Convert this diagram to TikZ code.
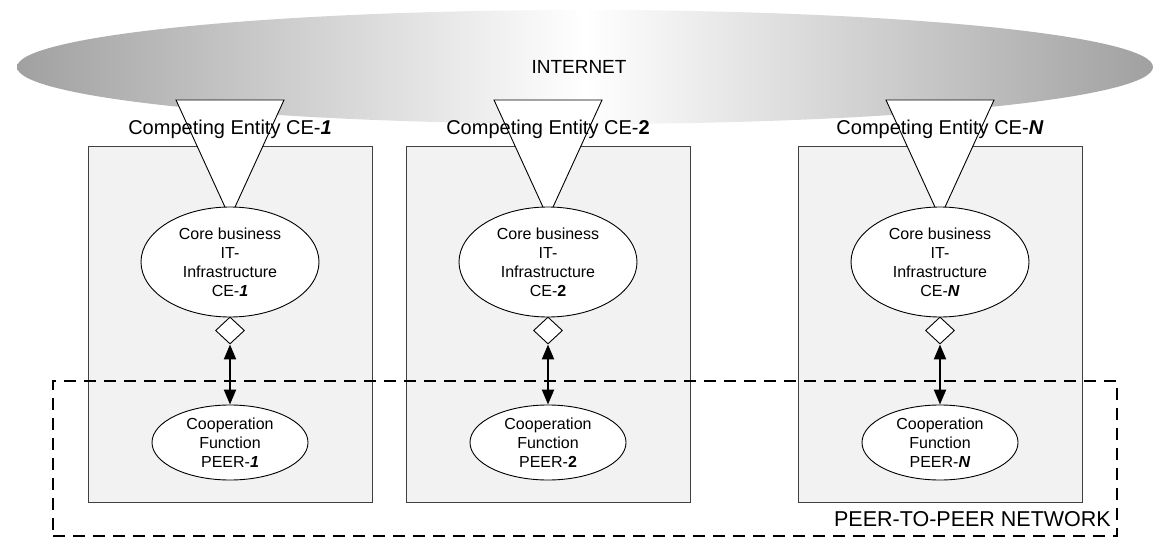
\documentclass[tikz,border=0pt]{standalone}
\usepackage{fontspec}
\setmainfont{Liberation Sans}
\usetikzlibrary{shapes.geometric,arrows.meta}

\tikzset{
  cloud/.style={ellipse, draw=none, left color=black!37, right color=black!37,
    middle color=white, minimum width=1136pt, minimum height=114pt,
    inner sep=0pt, font=\fontsize{19}{23}\selectfont},
  entitybox/.style={draw=black!75, line width=1pt, fill=black!5,
    minimum width=284pt, minimum height=355pt, inner sep=0pt},
  entitytitle/.style={inner sep=0pt, font=\fontsize{20}{24}\selectfont},
  funnel/.style={draw=black, line width=0.9pt, fill=white, line join=miter},
  corenode/.style={ellipse, draw=black, line width=0.9pt, fill=white,
    minimum width=178pt, minimum height=110pt, inner sep=0pt, align=center,
    font=\fontsize{16}{19}\selectfont},
  coopnode/.style={ellipse, draw=black, line width=0.9pt, fill=white,
    minimum width=156pt, minimum height=75pt, inner sep=0pt, align=center,
    font=\fontsize{16}{19}\selectfont},
  gate/.style={diamond, draw=black, line width=0.9pt, fill=white,
    minimum width=29pt, minimum height=27pt, inner sep=0pt},
  link/.style={line width=2.2pt, {Triangle[length=15pt,width=12pt]}-{Triangle[length=15pt,width=12pt]}},
  p2pframe/.style={draw=black, line width=2.4pt, dash pattern=on 12pt off 8pt,
    minimum width=1064pt, minimum height=155pt, inner sep=0pt}
}

\newcommand{\ent}[1]{\textbf{\textit{#1}}}

\begin{document}
\begin{tikzpicture}[x=1pt, y=-1pt]
  \useasboundingbox (0,0) rectangle (1158,540);

  % the Internet cloud
  \node[cloud] (inet) at (585,67) {};
  \node[inner sep=0pt, font=\fontsize{19}{23}\selectfont] (inetlabel) at (579,67) {INTERNET};

  % competing entities
  \node[entitybox] (box1) at (230,324.5) {};
  \node[entitybox] (box2) at (548,324.5) {};
  \node[entitybox] (boxn) at (940,324.5) {};

  % access funnels from the Internet
  \foreach \cx/\nm in {230/1, 548/2, 940/n} {
    \coordinate (fl\nm) at (\cx-54,100);
    \coordinate (fr\nm) at (\cx+54,100);
    \coordinate (fa\nm) at (\cx,218);
    \draw[funnel] (fl\nm) -- (fr\nm) -- (fa\nm) -- cycle;
  }

  % entity titles
  \node[entitytitle] (t1) at (230,129) {Competing Entity CE-\ent{1}};
  \node[entitytitle] (t2) at (548,129) {Competing Entity CE-\textbf{2}};
  \node[entitytitle] (tn) at (940,129) {Competing Entity CE-\ent{N}};

  % core business infrastructure
  \node[corenode] (core1) at (230,262) {Core business\\IT-\\Infrastructure\\CE-\ent{1}};
  \node[corenode] (core2) at (548,262) {Core business\\IT-\\Infrastructure\\CE-\textbf{2}};
  \node[corenode] (coren) at (940,262) {Core business\\IT-\\Infrastructure\\CE-\ent{N}};

  % interfaces
  \node[gate] (g1) at (230,330.5) {};
  \node[gate] (g2) at (548,330.5) {};
  \node[gate] (gn) at (940,330.5) {};

  % cooperation functions
  \node[coopnode] (coop1) at (230,442.5) {Cooperation\\Function\\PEER-\ent{1}};
  \node[coopnode] (coop2) at (548,442.5) {Cooperation\\Function\\PEER-\textbf{2}};
  \node[coopnode] (coopn) at (940,442.5) {Cooperation\\Function\\PEER-\ent{N}};

  \draw[link] (g1.south) -- (coop1.north);
  \draw[link] (g2.south) -- (coop2.north);
  \draw[link] (gn.south) -- (coopn.north);

  % peer-to-peer network
  \node[p2pframe] (p2p) at (585,458.5) {};
  \node[anchor=east, inner sep=0pt, font=\fontsize{21.5}{25}\selectfont]
    (p2plabel) at (1111,519) {PEER-TO-PEER NETWORK};
\end{tikzpicture}
\end{document}
